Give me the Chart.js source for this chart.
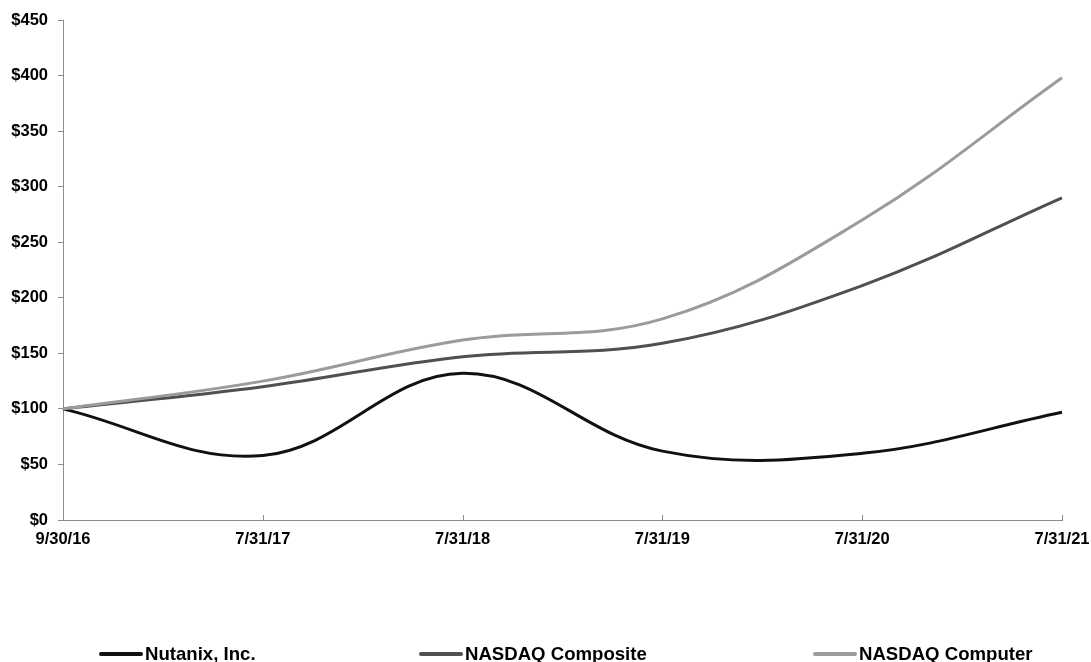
<!DOCTYPE html>
<html>
<head>
<meta charset="utf-8">
<script src="https://cdn.jsdelivr.net/npm/chart.js@4.4.0/dist/chart.umd.min.js"></script>
<style>
  html, body { margin: 0; padding: 0; background: #fff; }
  #wrap { position: relative; width: 1091px; height: 662px; overflow: hidden; }
  canvas { position: absolute; left: 0; top: 0; }
  .leg { position: absolute; top: 644px; font-family: "Liberation Sans", Arial, sans-serif; font-weight: bold; font-size: 18.6px; color: #000; display: flex; align-items: center; white-space: nowrap; line-height: 20px; }
  .leg span.sw { display: inline-block; width: 44px; height: 4px; border-radius: 2px; margin-right: 2px; }
</style>
</head>
<body>
<div id="wrap">
  <canvas id="c" width="1091" height="662"></canvas>
  <div class="leg" style="left:99px"><span class="sw" style="background:#111111"></span>Nutanix, Inc.</div>
  <div class="leg" style="left:419px"><span class="sw" style="background:#505050"></span>NASDAQ Composite</div>
  <div class="leg" style="left:813px"><span class="sw" style="background:#9b9b9b"></span>NASDAQ Computer</div>
</div>
<script>
const categories = ["9/30/16", "7/31/17", "7/31/18", "7/31/19", "7/31/20", "7/31/21"];
const nutanix = [100, 58, 132, 62, 60, 97];
const nasdaqComposite = [100, 120, 147, 159, 211, 290];
const nasdaqComputer = [100, 125, 162, 181, 270, 398];
const yTicks = [0, 50, 100, 150, 200, 250, 300, 350, 400, 450];

const FONT = "'Liberation Sans', Arial, sans-serif";

const innerTicks = {
  id: 'innerTicks',
  afterDraw(chart) {
    const x = chart.scales.x, ctx = chart.ctx;
    const yb = chart.chartArea.bottom;
    ctx.save();
    ctx.strokeStyle = '#8c8c8c';
    ctx.lineWidth = 1;
    for (let i = 1; i < categories.length; i++) {
      const px = Math.round(x.getPixelForTick(i)) + 0.5;
      ctx.beginPath();
      ctx.moveTo(px, yb);
      ctx.lineTo(px, yb - 5);
      ctx.stroke();
    }
    ctx.restore();
  }
};

new Chart(document.getElementById('c'), {
  type: 'line',
  data: {
    labels: categories,
    datasets: [
      { label: 'NASDAQ Computer', data: nasdaqComputer, borderColor: '#9b9b9b', borderWidth: 3, tension: 0.38, pointRadius: 0, fill: false },
      { label: 'NASDAQ Composite', data: nasdaqComposite, borderColor: '#505050', borderWidth: 3, tension: 0.38, pointRadius: 0, fill: false },
      { label: 'Nutanix, Inc.', data: nutanix, borderColor: '#111111', borderWidth: 3, tension: 0.38, pointRadius: 0, fill: false }
    ]
  },
  options: {
    responsive: false,
    animation: false,
    devicePixelRatio: 1,
    layout: { padding: { top: 20, right: 0, bottom: 112, left: 0 } },
    plugins: { legend: { display: false }, tooltip: { enabled: false } },
    scales: {
      x: {
        offset: false,
        grid: { display: false, drawTicks: false },
        border: { display: true, color: '#8c8c8c', width: 1 },
        ticks: { color: '#000', font: { family: FONT, weight: 'bold', size: 16.5 }, padding: 10, maxRotation: 0, autoSkip: false },
        afterFit(s) { s.height = 30; s.paddingRight = 29; s.paddingLeft = 0; }
      },
      y: {
        min: 0, max: 450,
        afterBuildTicks(s) { s.ticks = yTicks.map(v => ({ value: v })); },
        grid: { drawOnChartArea: false, drawTicks: true, tickLength: 5, color: '#8c8c8c' },
        border: { display: true, color: '#8c8c8c', width: 1 },
        ticks: { color: '#000', font: { family: FONT, weight: 'bold', size: 16.5 }, padding: 10, callback: v => '$' + v },
        afterFit(s) { s.width = 63; s.paddingTop = 0; s.paddingBottom = 0; }
      }
    }
  },
  plugins: [innerTicks]
});
</script>
</body>
</html>
